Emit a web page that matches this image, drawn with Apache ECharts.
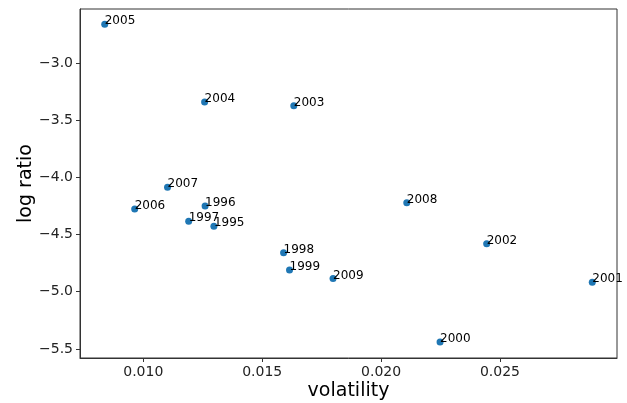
<!DOCTYPE html>
<html>
<head>
<meta charset="utf-8">
<script src="https://cdn.jsdelivr.net/npm/echarts@6/dist/echarts.min.js"></script>
<style>html,body{margin:0;padding:0;background:#fff}#c{width:627px;height:403px}</style>
</head>
<body>
<div id="c"></div>
<script>
const years = ['1995','1996','1997','1998','1999','2000','2001','2002','2003','2004','2005','2006','2007','2008','2009'];
const volatility = [0.01297,0.01260,0.01191,0.01590,0.01615,0.02248,0.02888,0.02444,0.01633,0.01258,0.00838,0.00964,0.01102,0.02108,0.01798];
const logRatio = [-4.427,-4.249,-4.384,-4.658,-4.809,-5.440,-4.918,-4.579,-3.371,-3.339,-2.659,-4.275,-4.086,-4.222,-4.883];
const xTicks = [0.010,0.015,0.020,0.025];
const yTicks = [-5.5,-5.0,-4.5,-4.0,-3.5,-3.0];

const data = years.map((y,i)=>[volatility[i], logRatio[i], y]);
const fmtMinus = (v,d)=> (v<0?'\u2212':'') + Math.abs(v).toFixed(d);
const font = 'DejaVu Sans';
const chart = echarts.init(document.getElementById('c'));
chart.setOption({
  animation:false,
  grid:{left:80,right:10,top:9,bottom:45,outerBoundsMode:'none',containLabel:false,show:true,borderColor:'#333',borderWidth:1,backgroundColor:'transparent'},
  xAxis:{
    type:'value', min:0.00734, max:0.02992,
    name:'volatility', nameLocation:'middle', nameGap:24, nameMoveOverlap:false,
    nameTextStyle:{fontFamily:font,fontSize:19,color:'#000'},
    axisLine:{show:true,onZero:false,lineStyle:{color:'#333'}},
    axisTick:{show:true,length:4,lineStyle:{color:'#333'},customValues:xTicks},
    axisLabel:{fontFamily:font,fontSize:14,color:'#222',margin:7,customValues:xTicks,formatter:v=>v.toFixed(3)},
    splitLine:{show:false}
  },
  yAxis:{
    type:'value', min:-5.58, max:-2.525,
    name:'log ratio', nameLocation:'middle', nameGap:44, nameMoveOverlap:false,
    nameTextStyle:{fontFamily:font,fontSize:19,color:'#000'},
    axisLine:{show:true,onZero:false,lineStyle:{color:'#333'}},
    axisTick:{show:true,length:4,lineStyle:{color:'#333'},customValues:yTicks},
    axisLabel:{fontFamily:font,fontSize:14,color:'#222',margin:7,customValues:yTicks,formatter:v=>fmtMinus(v,1)},
    splitLine:{show:false}
  },
  series:[{
    type:'scatter',
    symbolSize:7,
    itemStyle:{color:'#1f77b4',opacity:1},
    data:data,
    label:{
      show:true,
      formatter:p=>p.data[2],
      position:['50%','50%'],
      align:'left', verticalAlign:'bottom',
      offset:[0,3],
      fontFamily:font,fontSize:12,color:'#000'
    }
  }]
});
</script>
</body>
</html>
